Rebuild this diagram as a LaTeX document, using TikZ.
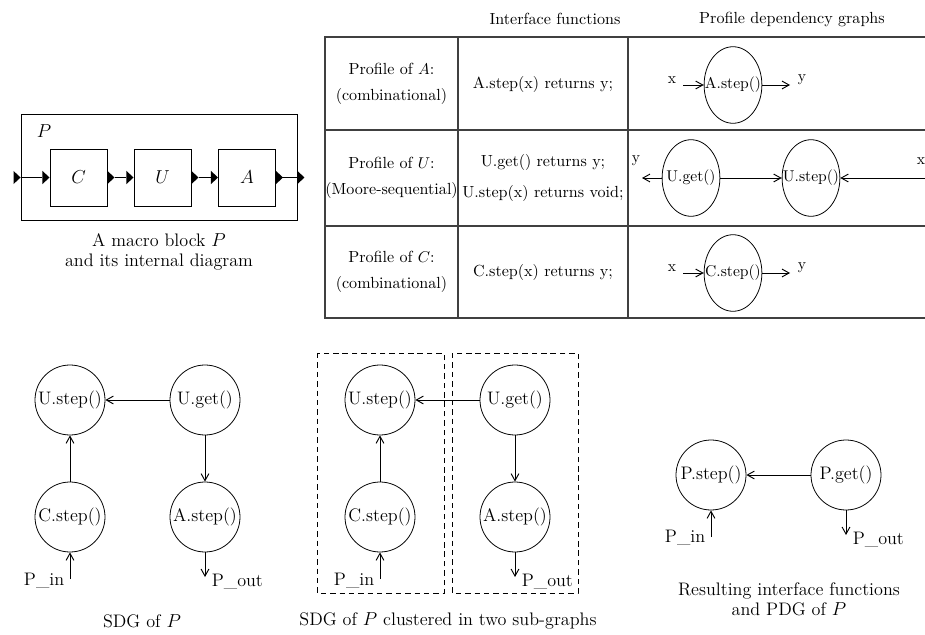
\documentclass[tikz,border=0pt]{standalone}
\usetikzlibrary{arrows.meta,shapes.geometric}
\newcommand\inport[1]{\fill (#1) -- ++(-4.5pt,4.2pt) -- ++(0,-8.4pt) -- cycle;}
\newcommand\outport[1]{\fill (#1) ++(0,4.2pt) -- ++(4.5pt,-4.2pt) -- ++(-4.5pt,-4.2pt) -- cycle;}
\begin{document}
\begin{tikzpicture}[x=0.64pt,y=-0.64pt,
  every node/.style={font=\fontsize{11.6}{14}\selectfont},
  captxt/.style={font=\fontsize{11.6}{13}\selectfont, align=center},
  tabtxt/.style={font=\fontsize{10.3}{17}\selectfont, align=center},
  iftxt/.style={font=\fontsize{10.3}{19.5}\selectfont, align=center},
  blk/.style={draw, line width=0.6pt, minimum width=36.5pt, minimum height=36.5pt, inner sep=0},
  outer/.style={draw, line width=0.6pt, minimum width=176.6pt, minimum height=67.8pt, inner sep=0},
  sdg/.style={draw, circle, minimum size=44.8pt, inner sep=-8pt, line width=0.5pt},
  pdg/.style={draw, ellipse, minimum width=37pt, minimum height=49pt, inner sep=-8pt, line width=0.5pt, font=\fontsize{10}{12}\selectfont},
  lbl/.style={font=\fontsize{10}{12}\selectfont, inner sep=1pt},
  arr/.style={-{Straight Barb[length=4.5pt,width=5pt]}, line width=0.6pt},
  tab/.style={line width=0.9pt, black!75},
  clus/.style={draw, dashed, line width=0.6pt, dash pattern=on 3.5pt off 2.5pt},
]
\useasboundingbox (0,0) rectangle (925,635);

% ---------------- macro block P ----------------
\node[outer] (P) at (159,167) {};
\node at (44,131) {$P$};
\node[blk] (C) at (78.5,177.5) {$C$};
\node[blk] (U) at (162.5,177.5) {$U$};
\node[blk] (A) at (247,177.5) {$A$};
\inport{P.west |- C.west}
\draw[line width=0.6pt] (P.west |- C.west) -- ([xshift=-4.5pt]C.west);
\inport{C.west}
\outport{C.east}
\draw[line width=0.6pt] ([xshift=4.5pt]C.east) -- ([xshift=-4.5pt]U.west);
\inport{U.west}
\outport{U.east}
\draw[line width=0.6pt] ([xshift=4.5pt]U.east) -- ([xshift=-4.5pt]A.west);
\inport{A.west}
\outport{A.east}
\draw[line width=0.6pt] ([xshift=4.5pt]A.east) -- (P.east |- A.east);
\outport{P.east |- A.east}
\node[captxt] (capP) at (159,252) {A macro block $P$\\and its internal diagram};

% ---------------- table ----------------
\node[tabtxt] (h1) at (555,19) {Interface functions};
\node[tabtxt] (h2) at (792,19) {Profile dependency graphs};
\draw[tab] (930,37) -- (325,37) -- (325,318) -- (930,318);
\draw[tab] (325,130) -- (930,130);
\draw[tab] (325,226) -- (930,226);
\draw[tab] (458,37) -- (458,318);
\draw[tab] (628,37) -- (628,318);

\node[tabtxt] (pa) at (391.5,84) {Profile of $A$:\\(combinational)};
\node[tabtxt] (pu) at (391.5,178) {Profile of $U$:\\(Moore-sequential)};
\node[tabtxt] (pc) at (391.5,272) {Profile of $C$:\\(combinational)};
\node[tabtxt] (fa) at (543,84) {A.step(x) returns y;};
\node[iftxt] (fu) at (543,178) {U.get() returns y;\\U.step(x) returns void;};
\node[tabtxt] (fc) at (543,272) {C.step(x) returns y;};

% row A
\node[pdg] (a1) at (733,85) {A.step()};
\node[lbl] (xa) at (672,80) {x};
\node[lbl] (ya) at (802,80) {y};
\coordinate (xas) at (683,85);
\coordinate (yae) at (790,85);
\draw[arr] (xas) -- (a1);
\draw[arr] (a1) -- (yae);
% row U
\node[pdg] (ug1) at (691,178) {U.get()};
\node[pdg] (us1) at (811,178) {U.step()};
\node[lbl] (yu) at (636,161) {y};
\node[lbl] (xu) at (921,161) {x};
\coordinate (yue) at (642,178);
\coordinate (xus) at (928,178);
\draw[arr] (ug1) -- (yue);
\draw[arr] (ug1) -- (us1);
\draw[arr] (xus) -- (us1);
% row C
\node[pdg] (c1) at (733,273) {C.step()};
\node[lbl] (xc) at (672,268) {x};
\node[lbl] (yc) at (802,268) {y};
\coordinate (xcs) at (683,273);
\coordinate (yce) at (790,273);
\draw[arr] (xcs) -- (c1);
\draw[arr] (c1) -- (yce);

% ---------------- SDG of P ----------------
\node[sdg] (us2) at (70,400) {U.step()};
\node[sdg] (ug2) at (205,400) {U.get()};
\node[sdg] (cs2) at (70,517) {C.step()};
\node[sdg] (as2) at (205,517) {A.step()};
\draw[arr] (ug2) -- (us2);
\draw[arr] (cs2) -- (us2);
\draw[arr] (ug2) -- (as2);
\coordinate (pin2) at (70,579);
\coordinate (pout2) at (205,577);
\draw[arr] (pin2) -- (cs2);
\draw[arr] (as2) -- (pout2);
\node[anchor=east, inner sep=1pt] (pinl2) at (66,581) {P\_in};
\node[anchor=west, inner sep=1pt] (poutl2) at (210,582) {P\_out};
\node[captxt] (cap2) at (142,621) {SDG of $P$};

% ---------------- clustered SDG ----------------
\draw[clus] (317,353) rectangle (444,593);
\draw[clus] (452,353) rectangle (578,593);
\node[sdg] (us3) at (380,400) {U.step()};
\node[sdg] (ug3) at (515,400) {U.get()};
\node[sdg] (cs3) at (380,517) {C.step()};
\node[sdg] (as3) at (515,517) {A.step()};
\draw[arr] (ug3) -- (us3);
\draw[arr] (cs3) -- (us3);
\draw[arr] (ug3) -- (as3);
\coordinate (pin3) at (380,579);
\coordinate (pout3) at (515,577);
\draw[arr] (pin3) -- (cs3);
\draw[arr] (as3) -- (pout3);
\node[anchor=east, inner sep=1pt] (pinl3) at (376,581) {P\_in};
\node[anchor=west, inner sep=1pt] (poutl3) at (520,582) {P\_out};
\node[captxt] (cap3) at (448,621) {SDG of $P$ clustered in two sub-graphs};

% ---------------- resulting PDG ----------------
\node[sdg] (ps) at (711,475) {P.step()};
\node[sdg] (pg) at (846,475) {P.get()};
\draw[arr] (pg) -- (ps);
\coordinate (pin4) at (711,537);
\coordinate (pout4) at (846,535);
\draw[arr] (pin4) -- (ps);
\draw[arr] (pg) -- (pout4);
\node[anchor=east, inner sep=1pt] (pinl4) at (707,538) {P\_in};
\node[anchor=west, inner sep=1pt] (poutl4) at (851,540) {P\_out};
\node[captxt] (cap4) at (789,599) {Resulting interface functions\\and PDG of $P$};
\end{tikzpicture}
\end{document}
